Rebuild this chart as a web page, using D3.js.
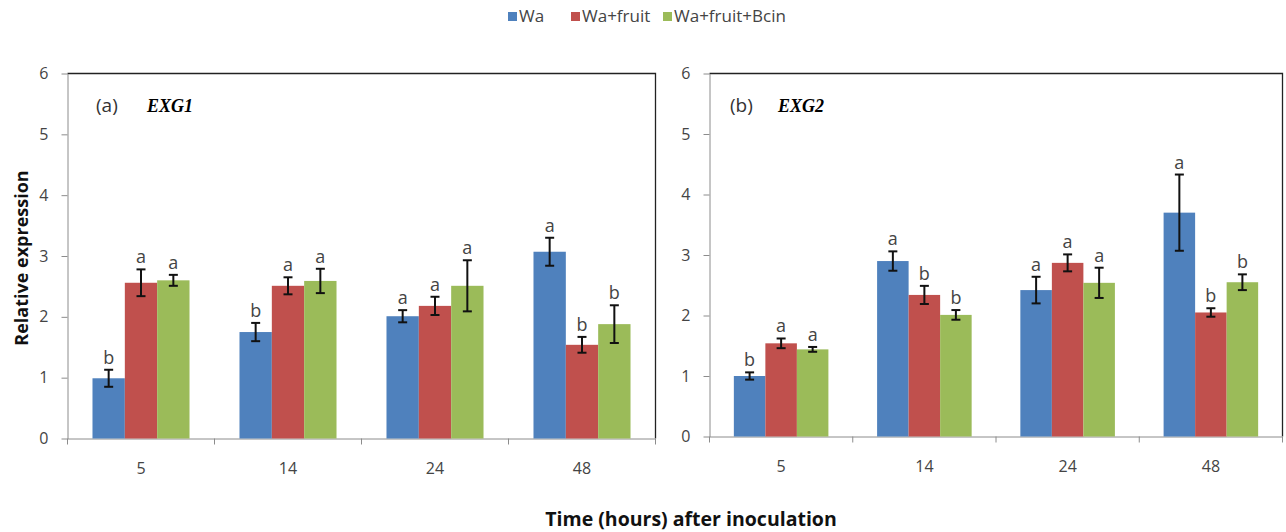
<!DOCTYPE html>
<html>
<head>
<meta charset="utf-8">
<script src="https://cdn.jsdelivr.net/npm/d3@7"></script>
<style>
  html, body { margin: 0; padding: 0; background: #fff; }
  svg { display: block; }
  text { font-family: "Open Sans", Lato, sans-serif; }
</style>
</head>
<body>
<svg id="chart" width="1286" height="532"></svg>
<script>
// ---- Data ----
const categories = ["5", "14", "24", "48"];
const seriesNames = ["Wa", "Wa+fruit", "Wa+fruit+Bcin"];
const seriesColors = ["#4F81BD", "#C0504D", "#9BBB59"];
const yTicks = [0, 1, 2, 3, 4, 5, 6];

// Panel (a) EXG1
const exg1Wa          = [0.99, 1.75, 2.01, 3.07];
const exg1WaFruit     = [2.56, 2.51, 2.18, 1.54];
const exg1WaFruitBcin = [2.60, 2.59, 2.51, 1.88];
const exg1ErrWa          = [0.14, 0.15, 0.10, 0.23];
const exg1ErrWaFruit     = [0.22, 0.14, 0.15, 0.13];
const exg1ErrWaFruitBcin = [0.09, 0.20, 0.42, 0.31];
const exg1LettersWa          = ["b", "b", "a", "a"];
const exg1LettersWaFruit     = ["a", "a", "a", "b"];
const exg1LettersWaFruitBcin = ["a", "a", "a", "b"];

// Panel (b) EXG2
const exg2Wa          = [1.00, 2.90, 2.42, 3.70];
const exg2WaFruit     = [1.54, 2.34, 2.87, 2.05];
const exg2WaFruitBcin = [1.44, 2.01, 2.54, 2.55];
const exg2ErrWa          = [0.06, 0.16, 0.22, 0.63];
const exg2ErrWaFruit     = [0.08, 0.15, 0.14, 0.07];
const exg2ErrWaFruitBcin = [0.04, 0.08, 0.25, 0.13];
const exg2LettersWa          = ["b", "a", "a", "a"];
const exg2LettersWaFruit     = ["a", "b", "a", "b"];
const exg2LettersWaFruitBcin = ["a", "b", "a", "b"];

const panels = [
  { tag: "(a)", gene: "EXG1", x0: 67.5, x1: 655.5, y0: 438.5, y1: 73.5, tagX: 96, geneX: 147,
    values: [exg1Wa, exg1WaFruit, exg1WaFruitBcin],
    errors: [exg1ErrWa, exg1ErrWaFruit, exg1ErrWaFruitBcin],
    letters: [exg1LettersWa, exg1LettersWaFruit, exg1LettersWaFruitBcin] },
  { tag: "(b)", gene: "EXG2", x0: 709.5, x1: 1282.5, y0: 436.5, y1: 73.5, tagX: 730, geneX: 778,
    values: [exg2Wa, exg2WaFruit, exg2WaFruitBcin],
    errors: [exg2ErrWa, exg2ErrWaFruit, exg2ErrWaFruitBcin],
    letters: [exg2LettersWa, exg2LettersWaFruit, exg2LettersWaFruitBcin] }
];

const svg = d3.select("#chart");

panels.forEach(p => {
  const g = svg.append("g");
  const x = d3.scaleBand().domain(categories).range([p.x0, p.x1])
    .paddingInner(0.34).paddingOuter(0.17);
  const xs = d3.scaleBand().domain(seriesNames).range([0, x.bandwidth()]).padding(0);
  const y = d3.scaleLinear().domain([0, 6]).range([p.y0, p.y1]);

  // frame top & right
  g.append("path")
    .attr("d", `M${p.x0},${p.y1}H${p.x1}V${p.y0}`)
    .attr("fill", "none").attr("stroke", "#222").attr("stroke-width", 1.3);

  // y axis
  const yAxis = g.append("g").attr("transform", `translate(${p.x0},0)`)
    .call(d3.axisLeft(y).tickValues(yTicks).tickFormat(d3.format("d")).tickSizeInner(6).tickSizeOuter(0).tickPadding(13));
  yAxis.select(".domain").attr("stroke", "#8c8c8c");
  yAxis.selectAll(".tick line").attr("stroke", "#8c8c8c");
  yAxis.selectAll(".tick text").attr("fill", "#444").style("font-size", "16px").style("font-family", "'Open Sans', sans-serif");

  // x axis labels
  const xAxis = g.append("g").attr("transform", `translate(0,${p.y0})`)
    .call(d3.axisBottom(x).tickSize(0).tickPadding(24));
  xAxis.select(".domain").attr("stroke", "#8c8c8c");
  xAxis.selectAll(".tick text").attr("fill", "#444").style("font-size", "16px").style("font-family", "'Open Sans', sans-serif");

  // x boundary ticks
  const step = x.step();
  const bounds = categories.map(c => x(c) - x.paddingInner() * step / 2).concat([p.x1]);
  g.selectAll("line.xb").data(bounds).join("line")
    .attr("x1", d => d).attr("x2", d => d)
    .attr("y1", p.y0).attr("y2", p.y0 + 6)
    .attr("stroke", "#8c8c8c");

  // bars
  seriesNames.forEach((s, si) => {
    const sg = g.append("g");
    sg.selectAll("rect").data(categories).join("rect")
      .attr("x", (c) => x(c) + xs(s))
      .attr("width", xs.bandwidth())
      .attr("y", (c, i) => y(p.values[si][i]))
      .attr("height", (c, i) => y(0) - y(p.values[si][i]))
      .attr("fill", seriesColors[si]);
  });

  // error bars and letters
  seriesNames.forEach((s, si) => {
    categories.forEach((c, i) => {
      const cx = x(c) + xs(s) + xs.bandwidth() / 2;
      const v = p.values[si][i], e = p.errors[si][i];
      const yt = y(v + e), yb = y(v - e);
      const eg = g.append("g").attr("stroke", "#111").attr("stroke-width", 2);
      eg.append("line").attr("x1", cx).attr("x2", cx).attr("y1", yt).attr("y2", yb);
      eg.append("line").attr("x1", cx - 4.5).attr("x2", cx + 4.5).attr("y1", yt).attr("y2", yt);
      eg.append("line").attr("x1", cx - 4.5).attr("x2", cx + 4.5).attr("y1", yb).attr("y2", yb);
      g.append("text").attr("x", cx).attr("y", yt - 6)
        .attr("text-anchor", "middle").attr("fill", "#444")
        .style("font-size", "18px").text(p.letters[si][i]);
    });
  });

  // panel tag and gene label
  g.append("text").attr("x", p.tagX).attr("y", 112).attr("fill", "#333")
    .style("font-size", "19px").text(p.tag);
  g.append("text").attr("x", p.geneX).attr("y", 112).attr("fill", "#000")
    .style("font-family", "'Liberation Serif', 'DejaVu Serif', serif")
    .style("font-weight", "bold").style("font-style", "italic")
    .style("font-size", "18px").text(p.gene);
});

// y title
svg.append("text")
  .attr("transform", "translate(28,258) rotate(-90)")
  .attr("text-anchor", "middle").attr("fill", "#111")
  .style("font-size", "18px").style("font-weight", "bold")
  .text("Relative expression");

// x title
svg.append("text")
  .attr("x", 691).attr("y", 526)
  .attr("text-anchor", "middle").attr("fill", "#111")
  .style("font-size", "19.5px").style("font-weight", "bold")
  .text("Time (hours) after inoculation");

// legend
const legendX = [508, 571, 663];
const lg = svg.append("g");
seriesNames.forEach((s, i) => {
  lg.append("rect").attr("x", legendX[i]).attr("y", 12).attr("width", 9).attr("height", 9)
    .attr("fill", seriesColors[i]);
  lg.append("text").attr("x", legendX[i] + 11).attr("y", 22).attr("fill", "#444")
    .style("font-size", "17px").text(s);
});
</script>
</body>
</html>
